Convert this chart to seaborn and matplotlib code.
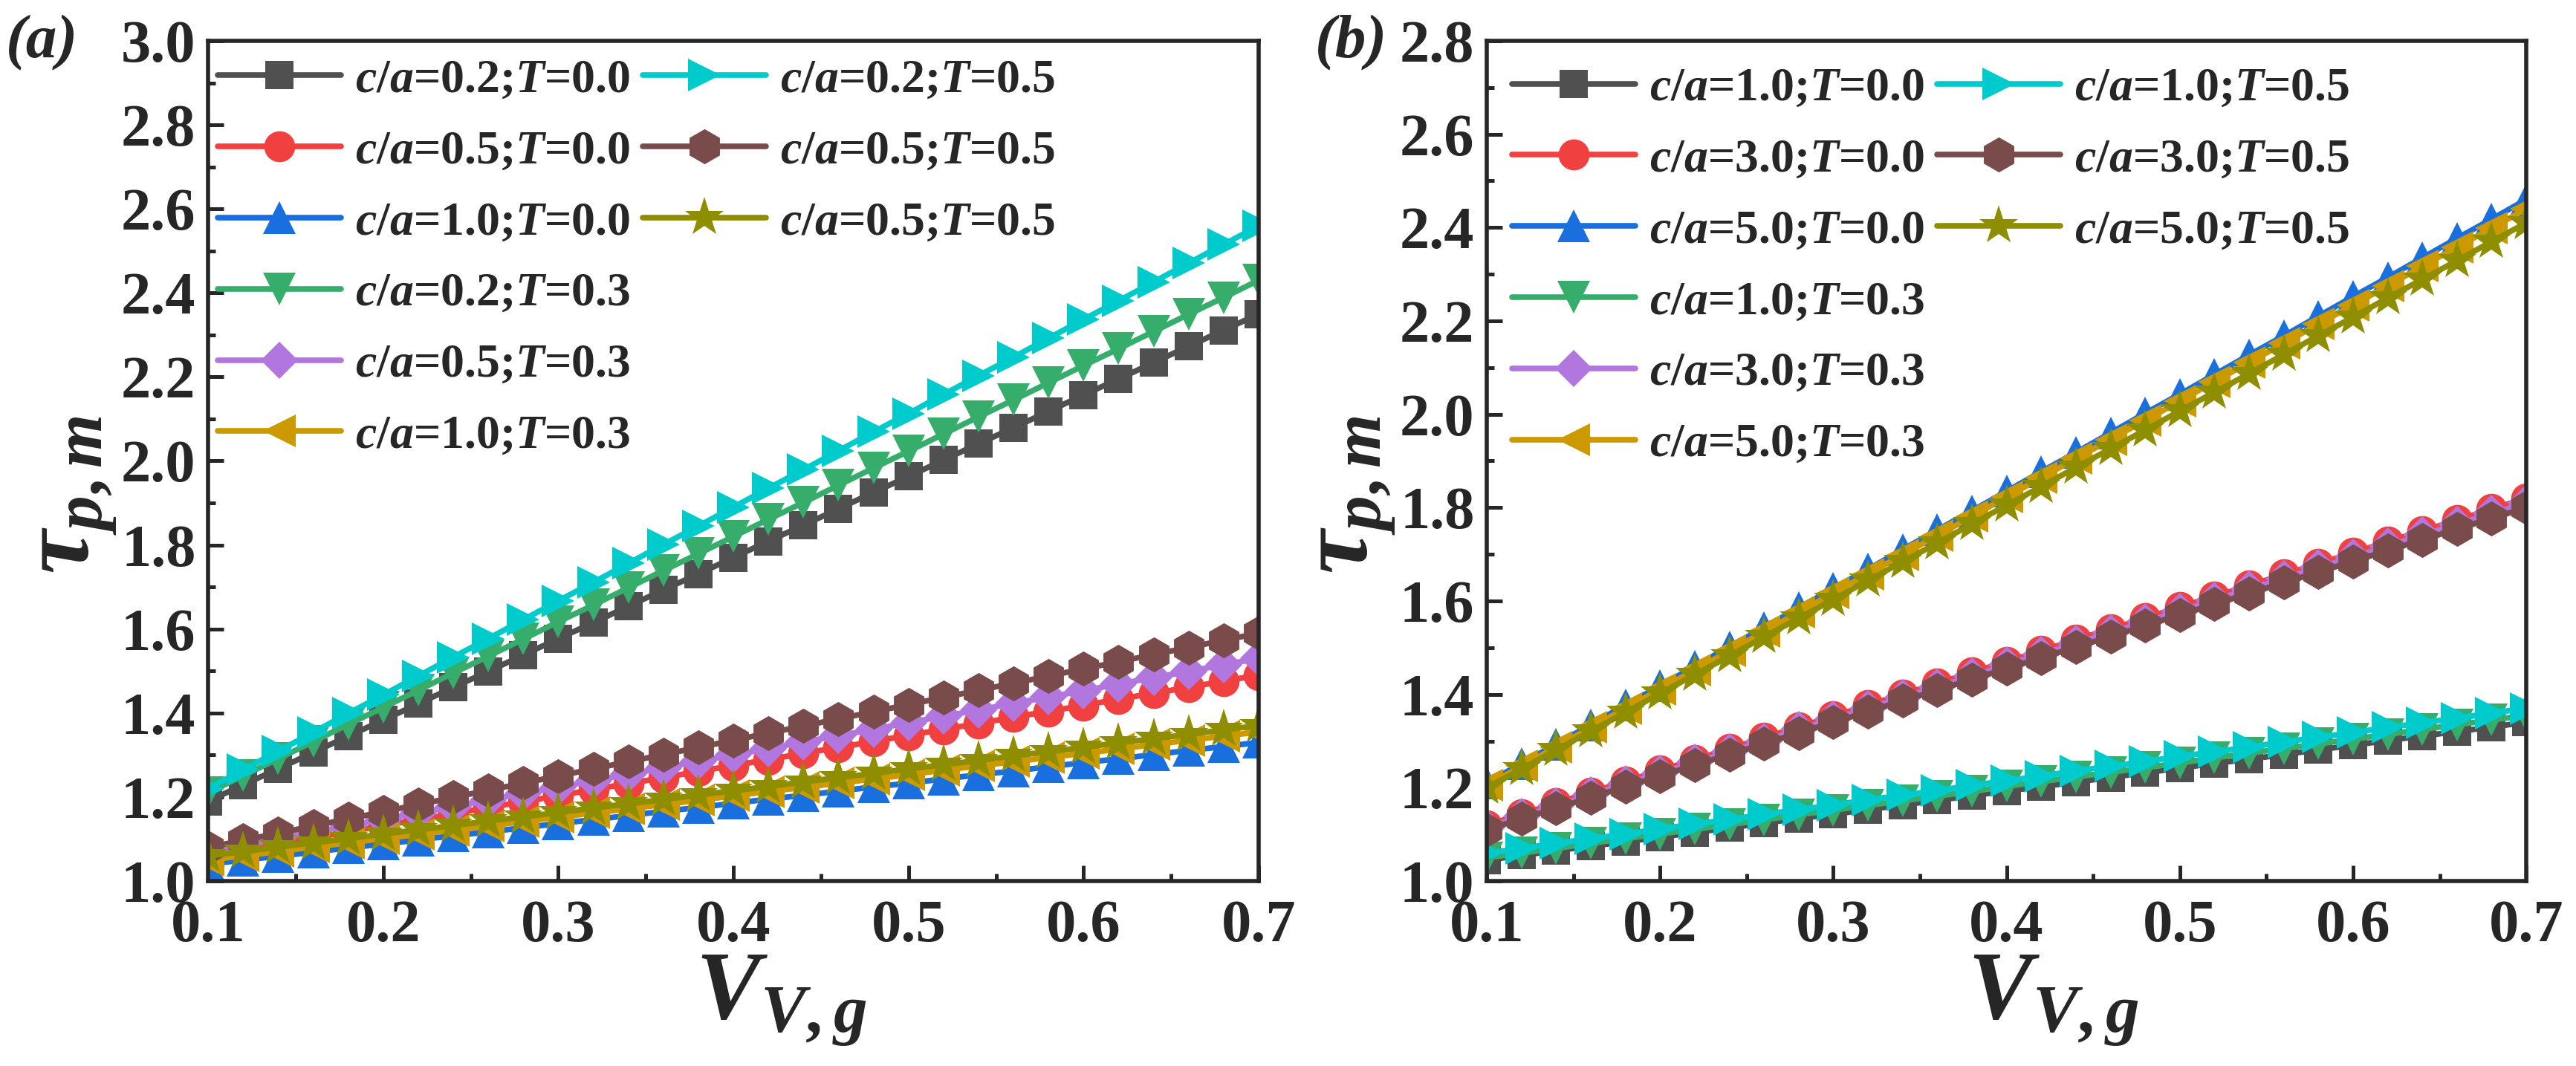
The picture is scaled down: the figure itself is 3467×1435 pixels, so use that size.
import numpy as np
import pandas as pd
import matplotlib
matplotlib.use("Agg")
import matplotlib.pyplot as plt
import seaborn as sns
from matplotlib.lines import Line2D
from matplotlib.ticker import MultipleLocator, FormatStrFormatter

# volume fraction V_V,g (x axis, shared by both panels)
x_vvg = [0.10, 0.12, 0.14, 0.16, 0.18, 0.20, 0.22, 0.24, 0.26, 0.28, 0.30,
         0.32, 0.34, 0.36, 0.38, 0.40, 0.42, 0.44, 0.46, 0.48, 0.50,
         0.52, 0.54, 0.56, 0.58, 0.60, 0.62, 0.64, 0.66, 0.68, 0.70]

# ---- panel (a) ----
labels_a = [r"$c/a$=0.2;$T$=0.0", r"$c/a$=0.5;$T$=0.0", r"$c/a$=1.0;$T$=0.0",
            r"$c/a$=0.2;$T$=0.3", r"$c/a$=0.5;$T$=0.3", r"$c/a$=1.0;$T$=0.3",
            r"$c/a$=0.2;$T$=0.5", r"$c/a$=0.5;$T$=0.5", r"$c/a$=0.5;$T$=0.5"]

a_ca02_t00 = [1.190, 1.229, 1.267, 1.306, 1.345, 1.383, 1.422, 1.461, 1.499, 1.538, 1.577,
              1.615, 1.654, 1.693, 1.731, 1.770, 1.809, 1.847, 1.886, 1.925, 1.963,
              2.002, 2.041, 2.079, 2.118, 2.157, 2.195, 2.234, 2.273, 2.311, 2.350]
a_ca05_t00 = [1.060, 1.074, 1.089, 1.103, 1.117, 1.132, 1.146, 1.160, 1.175, 1.189, 1.203,
              1.218, 1.232, 1.246, 1.261, 1.275, 1.289, 1.304, 1.318, 1.332, 1.347,
              1.361, 1.375, 1.390, 1.404, 1.418, 1.433, 1.447, 1.461, 1.476, 1.490]
a_ca10_t00 = [1.040, 1.050, 1.059, 1.069, 1.079, 1.088, 1.098, 1.108, 1.117, 1.127, 1.137,
              1.146, 1.156, 1.166, 1.175, 1.185, 1.195, 1.204, 1.214, 1.224, 1.233,
              1.243, 1.253, 1.262, 1.272, 1.282, 1.291, 1.301, 1.311, 1.320, 1.330]
a_ca02_t03 = [1.210, 1.251, 1.291, 1.332, 1.373, 1.413, 1.454, 1.495, 1.535, 1.576, 1.617,
              1.657, 1.698, 1.739, 1.779, 1.820, 1.861, 1.901, 1.942, 1.983, 2.023,
              2.064, 2.105, 2.145, 2.186, 2.227, 2.267, 2.308, 2.349, 2.389, 2.430]
a_ca05_t03 = [1.070, 1.085, 1.101, 1.116, 1.131, 1.147, 1.162, 1.177, 1.193, 1.208, 1.223,
              1.239, 1.254, 1.269, 1.285, 1.300, 1.315, 1.331, 1.346, 1.361, 1.377,
              1.392, 1.407, 1.423, 1.438, 1.453, 1.469, 1.484, 1.499, 1.515, 1.530]
a_ca10_t03 = [1.050, 1.060, 1.070, 1.081, 1.091, 1.101, 1.111, 1.121, 1.131, 1.142, 1.152,
              1.162, 1.172, 1.182, 1.192, 1.203, 1.213, 1.223, 1.233, 1.243, 1.253,
              1.264, 1.274, 1.284, 1.294, 1.304, 1.314, 1.325, 1.335, 1.345, 1.355]
a_ca02_t05 = [1.220, 1.265, 1.309, 1.354, 1.399, 1.443, 1.488, 1.533, 1.577, 1.622, 1.667,
              1.711, 1.756, 1.801, 1.845, 1.890, 1.935, 1.979, 2.024, 2.069, 2.113,
              2.158, 2.203, 2.247, 2.292, 2.337, 2.381, 2.426, 2.471, 2.515, 2.560]
a_ca05_t05 = [1.080, 1.097, 1.114, 1.131, 1.148, 1.165, 1.182, 1.199, 1.216, 1.233, 1.250,
              1.267, 1.284, 1.301, 1.318, 1.335, 1.352, 1.369, 1.386, 1.403, 1.420,
              1.437, 1.454, 1.471, 1.488, 1.505, 1.522, 1.539, 1.556, 1.573, 1.590]
a_ca10_t05 = [1.060, 1.070, 1.081, 1.091, 1.101, 1.112, 1.122, 1.132, 1.143, 1.153, 1.163,
              1.174, 1.184, 1.194, 1.205, 1.215, 1.225, 1.236, 1.246, 1.256, 1.267,
              1.277, 1.287, 1.298, 1.308, 1.318, 1.329, 1.339, 1.349, 1.360, 1.370]

# ---- panel (b) ----
labels_b = [r"$c/a$=1.0;$T$=0.0", r"$c/a$=3.0;$T$=0.0", r"$c/a$=5.0;$T$=0.0",
            r"$c/a$=1.0;$T$=0.3", r"$c/a$=3.0;$T$=0.3", r"$c/a$=5.0;$T$=0.3",
            r"$c/a$=1.0;$T$=0.5", r"$c/a$=3.0;$T$=0.5", r"$c/a$=5.0;$T$=0.5"]

b_ca10_t00 = [1.045, 1.055, 1.065, 1.075, 1.084, 1.094, 1.104, 1.114, 1.124, 1.134, 1.143,
              1.153, 1.163, 1.173, 1.183, 1.193, 1.202, 1.212, 1.222, 1.232, 1.242,
              1.252, 1.261, 1.271, 1.281, 1.291, 1.301, 1.311, 1.320, 1.330, 1.340]
b_ca30_t00 = [1.120, 1.143, 1.167, 1.190, 1.213, 1.237, 1.260, 1.283, 1.307, 1.330, 1.353,
              1.377, 1.400, 1.423, 1.447, 1.470, 1.493, 1.517, 1.540, 1.563, 1.587,
              1.610, 1.633, 1.657, 1.680, 1.703, 1.727, 1.750, 1.773, 1.797, 1.820]
b_ca50_t00 = [1.210, 1.252, 1.293, 1.335, 1.377, 1.418, 1.460, 1.502, 1.543, 1.585, 1.627,
              1.668, 1.710, 1.752, 1.793, 1.835, 1.877, 1.918, 1.960, 2.002, 2.043,
              2.085, 2.127, 2.168, 2.210, 2.252, 2.293, 2.335, 2.377, 2.418, 2.460]
b_ca10_t03 = [1.050, 1.060, 1.070, 1.081, 1.091, 1.101, 1.111, 1.121, 1.131, 1.142, 1.152,
              1.162, 1.172, 1.182, 1.192, 1.203, 1.213, 1.223, 1.233, 1.243, 1.253,
              1.264, 1.274, 1.284, 1.294, 1.304, 1.314, 1.325, 1.335, 1.345, 1.355]
b_ca30_t03 = [1.115, 1.138, 1.161, 1.185, 1.208, 1.231, 1.254, 1.277, 1.300, 1.324, 1.347,
              1.370, 1.393, 1.416, 1.439, 1.463, 1.486, 1.509, 1.532, 1.555, 1.578,
              1.602, 1.625, 1.648, 1.671, 1.694, 1.717, 1.741, 1.764, 1.787, 1.810]
b_ca50_t03 = [1.205, 1.246, 1.287, 1.329, 1.370, 1.411, 1.452, 1.493, 1.534, 1.576, 1.617,
              1.658, 1.699, 1.740, 1.781, 1.823, 1.864, 1.905, 1.946, 1.987, 2.028,
              2.070, 2.111, 2.152, 2.193, 2.234, 2.275, 2.317, 2.358, 2.399, 2.440]
b_ca10_t05 = [1.060, 1.070, 1.081, 1.091, 1.101, 1.112, 1.122, 1.132, 1.143, 1.153, 1.163,
              1.174, 1.184, 1.194, 1.205, 1.215, 1.225, 1.236, 1.246, 1.256, 1.267,
              1.277, 1.287, 1.298, 1.308, 1.318, 1.329, 1.339, 1.349, 1.360, 1.370]
b_ca30_t05 = [1.110, 1.133, 1.156, 1.179, 1.202, 1.225, 1.248, 1.271, 1.294, 1.317, 1.340,
              1.363, 1.386, 1.409, 1.432, 1.455, 1.478, 1.501, 1.524, 1.547, 1.570,
              1.593, 1.616, 1.639, 1.662, 1.685, 1.708, 1.731, 1.754, 1.777, 1.800]
b_ca50_t05 = [1.200, 1.240, 1.281, 1.321, 1.361, 1.402, 1.442, 1.482, 1.523, 1.563, 1.603,
              1.644, 1.684, 1.724, 1.765, 1.805, 1.845, 1.886, 1.926, 1.966, 2.007,
              2.047, 2.087, 2.128, 2.168, 2.208, 2.249, 2.289, 2.329, 2.370, 2.410]

series_a = [a_ca02_t00, a_ca05_t00, a_ca10_t00, a_ca02_t03, a_ca05_t03,
            a_ca10_t03, a_ca02_t05, a_ca05_t05, a_ca10_t05]
series_b = [b_ca10_t00, b_ca30_t00, b_ca50_t00, b_ca10_t03, b_ca30_t03,
            b_ca50_t03, b_ca10_t05, b_ca30_t05, b_ca50_t05]

# origin-like colours and symbols
colors = ["#505050", "#f14040", "#1a6fdf", "#37ad6b", "#b177de",
          "#cc9900", "#00cbcc", "#7a4b4b", "#8e8e00"]
markers = ["s", "o", "^", "v", "D", "<", ">", "h", "*"]
msizes = [28, 30, 32, 32, 25, 32, 32, 34, 40]

sns.set_style("ticks")
plt.rcParams["font.family"] = ["Liberation Serif", "DejaVu Serif"]
plt.rcParams["font.weight"] = "bold"
plt.rcParams["mathtext.fontset"] = "custom"
plt.rcParams["mathtext.it"] = "Liberation Serif:italic:bold"
plt.rcParams["mathtext.rm"] = "Liberation Serif:bold"
plt.rcParams["mathtext.bf"] = "Liberation Serif:bold"


def draw_panel(ax, series, labels, ymax, legend_anchor):
    for vals, lab, c, m, ms in zip(series, labels, colors, markers, msizes):
        df = pd.DataFrame({"x": x_vvg, "y": vals})
        sns.lineplot(data=df, x="x", y="y", color=c, marker=m, markersize=ms,
                     markeredgewidth=0, linewidth=5.5, label=lab, ax=ax,
                     errorbar=None)

    ax.set_xlim(0.1, 0.7)
    ax.set_ylim(1.0, ymax)
    ax.xaxis.set_major_locator(MultipleLocator(0.1))
    ax.xaxis.set_minor_locator(MultipleLocator(0.05))
    ax.yaxis.set_major_locator(MultipleLocator(0.2))
    ax.yaxis.set_minor_locator(MultipleLocator(0.1))
    ax.xaxis.set_major_formatter(FormatStrFormatter("%.1f"))
    ax.yaxis.set_major_formatter(FormatStrFormatter("%.1f"))
    ax.tick_params(which="both", direction="in", top=False, right=False,
                   width=3.6, labelsize=58)
    ax.tick_params(which="major", length=15)
    ax.tick_params(which="minor", length=7.5)
    ax.tick_params(axis="x", pad=18)
    ax.tick_params(axis="y", pad=12)
    for sp in ax.spines.values():
        sp.set_linewidth(4)
        sp.set_visible(True)

    ax.set_xlabel(r"$V_{V,g}$", fontsize=94, labelpad=0, x=0.545)
    ax.set_ylabel(r"$\tau_{p,m}$", fontsize=96, labelpad=2, y=0.46)

    # 6 entries in the first column, 3 in the second
    handles, labs = ax.get_legend_handles_labels()
    blank = [Line2D([], [], alpha=0) for _ in range(3)]
    ax.legend(handles + blank, labs + ["", "", ""], ncol=2, frameon=False,
              loc="upper left", bbox_to_anchor=legend_anchor, fontsize=46,
              handlelength=2.6, handletextpad=0.3, columnspacing=0.25,
              labelspacing=0.58, borderaxespad=0.0, borderpad=0.2)


fig = plt.figure(figsize=(34.67, 14.35), dpi=100)
ax_a = fig.add_axes([0.0808, 0.1735, 0.4078, 0.7882])
ax_b = fig.add_axes([0.5772, 0.1735, 0.4035, 0.7882])

draw_panel(ax_a, series_a, labels_a, 3.0, (0.0, 0.99))
draw_panel(ax_b, series_b, labels_b, 2.8, (0.015, 0.98))

fig.text(8 / 3467, 1 - 58 / 1435, "(a)", fontsize=60, fontstyle="italic",
         fontweight="bold", va="center", ha="left")
fig.text(1770 / 3467, 1 - 58 / 1435, "(b)", fontsize=60, fontstyle="italic",
         fontweight="bold", va="center", ha="left")

fig.savefig("out.png", dpi=100)
